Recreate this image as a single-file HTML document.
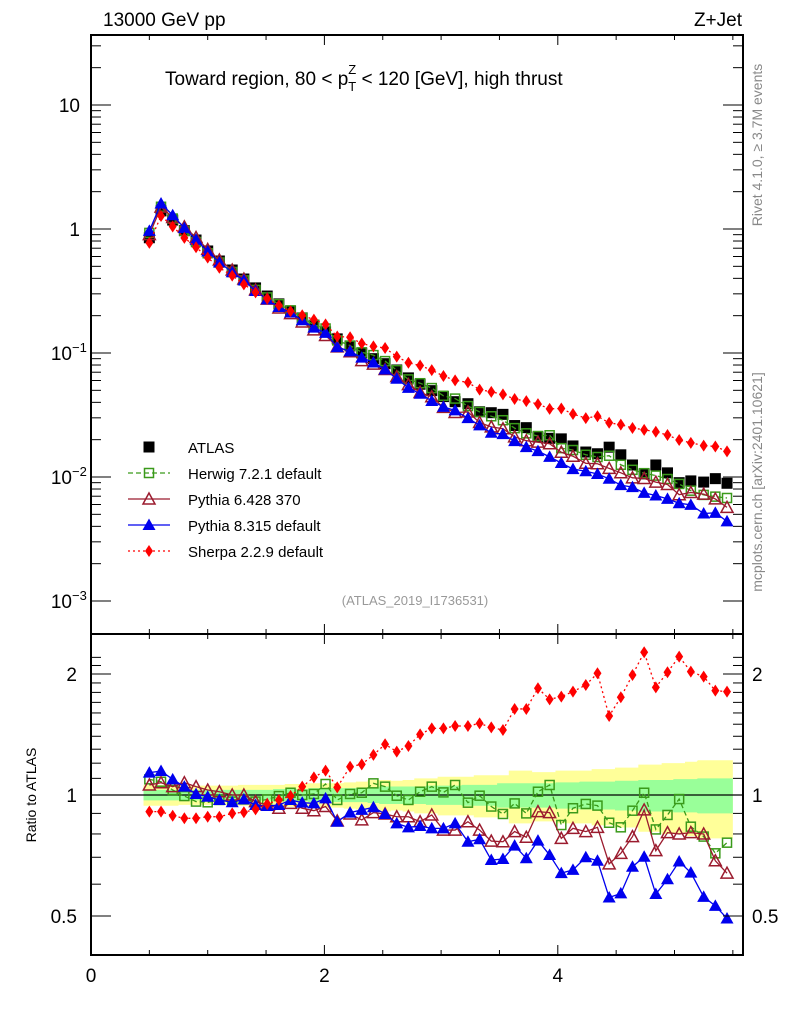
<!DOCTYPE html>
<html><head><meta charset="utf-8"><style>
body{margin:0;background:#fff;}
svg{display:block;font-family:"Liberation Sans",Arial,sans-serif;}
</style></head><body>
<svg id="chart" width="786" height="1024" viewBox="0 0 786 1024"></svg>
<script>
const xBins=[0.50,0.60,0.70,0.80,0.90,1.00,1.10,1.21,1.31,1.41,1.51,1.61,1.71,1.81,1.91,2.01,2.11,2.22,2.32,2.42,2.52,2.62,2.72,2.82,2.92,3.02,3.12,3.23,3.33,3.43,3.53,3.63,3.73,3.83,3.93,4.03,4.13,4.24,4.34,4.44,4.54,4.64,4.74,4.84,4.94,5.04,5.14,5.25,5.35,5.45];
const atlas=[0.85,1.40,1.18,0.97,0.815,0.665,0.552,0.467,0.395,0.335,0.288,0.249,0.218,0.192,0.168,0.148,0.130,0.114,0.100,0.090,0.082,0.073,0.063,0.056,0.0497,0.0445,0.0405,0.039,0.0336,0.033,0.032,0.026,0.025,0.021,0.0205,0.0203,0.0178,0.0159,0.0154,0.0174,0.0151,0.0125,0.0106,0.0125,0.0108,0.0090,0.0093,0.0091,0.0097,0.0089];
const ratioHerwig=[1.094,1.079,1.029,0.994,0.963,0.959,0.972,0.963,0.975,0.963,0.975,0.994,1.013,1.0,1.006,1.065,0.972,1.006,1.013,1.069,1.049,0.996,0.972,1.019,1.049,1.015,1.059,0.957,0.996,0.936,0.897,0.953,0.900,1.019,1.059,0.842,0.927,0.950,0.941,0.853,0.831,0.914,1.013,0.821,0.892,0.977,0.834,0.788,0.716,0.761];
const ratioPy6=[1.059,1.073,1.049,1.073,1.049,1.029,1.019,1.0,1.0,0.963,0.944,0.927,0.953,0.927,0.914,0.936,0.862,0.897,0.867,0.904,0.897,0.883,0.883,0.858,0.892,0.818,0.818,0.858,0.818,0.768,0.765,0.811,0.785,0.909,0.904,0.780,0.826,0.811,0.831,0.674,0.716,0.788,0.918,0.727,0.806,0.800,0.806,0.800,0.686,0.639];
const ratioPy8=[1.137,1.147,1.094,1.049,1.006,0.990,0.972,0.959,0.975,0.944,0.939,0.944,0.972,0.957,0.953,0.981,0.858,0.904,0.918,0.932,0.897,0.850,0.831,0.837,0.826,0.826,0.850,0.765,0.776,0.689,0.693,0.748,0.696,0.770,0.709,0.639,0.651,0.700,0.686,0.556,0.569,0.663,0.702,0.567,0.617,0.683,0.641,0.558,0.530,0.493];
const ratioSherpa=[0.909,0.909,0.888,0.875,0.875,0.883,0.883,0.900,0.906,0.921,0.950,0.972,0.995,1.049,1.106,1.150,1.045,1.176,1.192,1.258,1.337,1.282,1.324,1.415,1.465,1.465,1.485,1.485,1.507,1.473,1.451,1.637,1.637,1.843,1.730,1.757,1.808,1.878,2.008,1.572,1.750,1.989,2.265,1.853,2.020,2.209,2.027,1.970,1.818,1.808];
const errGreen=[0.03,0.03,0.03,0.03,0.03,0.03,0.03,0.03,0.03,0.03,0.03,0.035,0.035,0.035,0.04,0.04,0.04,0.04,0.04,0.045,0.05,0.05,0.05,0.05,0.055,0.055,0.055,0.06,0.06,0.06,0.07,0.07,0.07,0.07,0.07,0.075,0.075,0.08,0.08,0.08,0.085,0.085,0.09,0.09,0.09,0.095,0.095,0.10,0.10,0.10];
const errYellow=[0.06,0.06,0.06,0.055,0.055,0.055,0.055,0.055,0.06,0.06,0.06,0.06,0.065,0.065,0.07,0.07,0.07,0.075,0.08,0.09,0.09,0.085,0.09,0.10,0.10,0.11,0.11,0.11,0.12,0.12,0.12,0.15,0.15,0.14,0.14,0.15,0.15,0.15,0.16,0.16,0.17,0.17,0.19,0.19,0.20,0.20,0.21,0.22,0.22,0.22];
const xTicks=[0,2,4];

const svg=document.getElementById('chart');
const NS='http://www.w3.org/2000/svg';
const L=91,R=743,T1=35,B1=634,T2=634,B2=955;
function X(v){return L+v*116.7;}
function Ym(v){return 229-124*Math.log10(v);}
function Yr(v){return 795-121*Math.log2(v);}
function mk(tag,attrs,parent){const e=document.createElementNS(NS,tag);for(const k in attrs)e.setAttribute(k,attrs[k]);(parent||svg).appendChild(e);return e;}
function txt(s,x,y,attrs,parent){const e=mk('text',Object.assign({x:x,y:y},attrs),parent);e.textContent=s;return e;}

const bands=mk('g',{});


function band(errs,color){let up='',dn='';for(let i=0;i<xBins.length;i++){const x0=X(xBins[i]-0.05),x1=X(xBins[i]+0.05);up+=`L${x0},${Yr(1+errs[i])}L${x1},${Yr(1+errs[i])}`;dn=`L${x1},${Yr(1-errs[i])}L${x0},${Yr(1-errs[i])}`+dn;}return mk('path',{d:'M'+up.slice(1)+dn+'Z',fill:color,stroke:'none'},bands);}
const by=band(errYellow,'#ffff99');


const bg=band(errGreen,'#99ff99');


const one=mk('line',{x1:L,x2:R,y1:Yr(1),y2:Yr(1),stroke:'#000','stroke-width':1.2});



function marker(type,x,y,color,g){const s=5.5;
 if(type==='sq')return mk('rect',{x:x-s,y:y-s,width:2*s,height:2*s,fill:'#000'},g);
 if(type==='osq')return mk('rect',{x:x-4.5,y:y-4.5,width:9,height:9,fill:'none',stroke:color,'stroke-width':1.5},g);
 if(type==='otri')return mk('path',{d:`M${x},${y-6}L${x+6},${y+5}L${x-6},${y+5}Z`,fill:'none',stroke:color,'stroke-width':1.5},g);
 if(type==='tri')return mk('path',{d:`M${x},${y-6.5}L${x+6.5},${y+5}L${x-6.5},${y+5}Z`,fill:color},g);
 if(type==='dia')return mk('path',{d:`M${x},${y-6}L${x+4},${y}L${x},${y+6}L${x-4},${y}Z`,fill:color},g);}

const series=[
 {name:'herwig',r:ratioHerwig,color:'#3a9a1a',m:'osq',dash:'5,3'},
 {name:'pythia6',r:ratioPy6,color:'#9b1b2e',m:'otri',dash:''},
 {name:'pythia8',r:ratioPy8,color:'#0000ee',m:'tri',dash:''},
 {name:'sherpa',r:ratioSherpa,color:'#ff0000',m:'dia',dash:'2,3'}];

const atl=mk('g',{});


xBins.forEach((x,i)=>marker('sq',X(x),Ym(atlas[i]),'#000',atl));
series.forEach(s=>{
 const gm=mk('g',{});
 
 
 const gr=mk('g',{});
 
 
 const pm=xBins.map((x,i)=>X(x)+','+Ym(atlas[i]*s.r[i])).join(' ');
 const pr=xBins.map((x,i)=>X(x)+','+Yr(s.r[i])).join(' ');
 mk('polyline',{points:pm,fill:'none',stroke:s.color,'stroke-width':1.3,'stroke-dasharray':s.dash},gm);
 mk('polyline',{points:pr,fill:'none',stroke:s.color,'stroke-width':1.3,'stroke-dasharray':s.dash},gr);
 xBins.forEach((x,i)=>{marker(s.m,X(x),Ym(atlas[i]*s.r[i]),s.color,gm);marker(s.m,X(x),Yr(s.r[i]),s.color,gr);});
});

const fr=mk('g',{fill:'none',stroke:'#000','stroke-width':2});


mk('rect',{x:L,y:T1,width:R-L,height:B1-T1},fr);mk('rect',{x:L,y:T2,width:R-L,height:B2-T2},fr);

const tk=mk('g',{stroke:'#000','stroke-width':1});


function hline(y,len){mk('line',{x1:L,x2:L+len,y1:y,y2:y},tk);mk('line',{x1:R,x2:R-len,y1:y,y2:y},tk);}
for(let d=-3;d<=1;d++){for(let k=1;k<10;k++){const v=k*Math.pow(10,d);const y=Ym(v);if(y<T1||y>B1)continue;hline(y,k===1?20:10);}}
[0.5,0.6,0.7,0.8,0.9,1,1.1,1.2,1.3,1.4,1.5,1.6,1.7,1.8,1.9,2,2.1,2.2].forEach(v=>hline(Yr(v),(v===0.5||v===1||v===2)?20:10));
for(let v=0;v<=5.5;v+=0.5){const x=X(v);const len=(v%2===0)?10:5;
 [[B1,-1],[T1,1],[B2,-1],[T2,1]].forEach(([y,s])=>mk('line',{x1:x,x2:x,y1:y,y2:y+s*len},tk));}

const lab=mk('g',{'font-size':19,fill:'#000'});


txt('10',80,112,{'text-anchor':'end'},lab);txt('1',80,236,{'text-anchor':'end'},lab);
[[-1,360],[-2,484],[-3,608]].forEach(([e,y])=>{txt('10',72,y,{'text-anchor':'end'},lab);txt(String(e).replace('-','\u2212'),72,y-8,{'font-size':13},lab);});
[['2',2],['1',1],['0.5',0.5]].forEach(([s,v])=>{txt(s,77,Yr(v)+7,{'text-anchor':'end'},lab);txt(s,752,Yr(v)+7,{},lab);});
xTicks.forEach(v=>txt(String(v),X(v),982,{'text-anchor':'middle'},lab));

const t1=txt('13000 GeV pp',103,26,{'font-size':19});


const t2=txt('Z+Jet',742,26,{'font-size':19,'text-anchor':'end'});


const t3=mk('text',{x:165,y:85,'font-size':19});


t3.innerHTML='Toward region, 80 &lt; p<tspan font-size="13" dy="6">T</tspan><tspan font-size="13" dx="-8" dy="-17">Z</tspan><tspan dy="11"> &lt; 120 [GeV], high thrust</tspan>';
const t4=txt('(ATLAS_2019_I1736531)',415,605,{'font-size':13,fill:'#999','text-anchor':'middle'});


const t5=txt('Rivet 4.1.0, \u2265 3.7M events',0,0,{'font-size':14,fill:'#888','text-anchor':'middle',transform:'translate(762,145) rotate(-90)'});


const t6=txt('mcplots.cern.ch [arXiv:2401.10621]',0,0,{'font-size':14,fill:'#888','text-anchor':'middle',transform:'translate(762,482) rotate(-90)'});


const t7=txt('Ratio to ATLAS',0,0,{'font-size':14,'text-anchor':'middle',transform:'translate(36,795) rotate(-90)'});



const lg=mk('g',{});


const entries=[['ATLAS','sq','#000',null],['Herwig 7.2.1 default','osq','#3a9a1a','5,3'],['Pythia 6.428 370','otri','#9b1b2e',''],['Pythia 8.315 default','tri','#0000ee',''],['Sherpa 2.2.9 default','dia','#ff0000','2,3']];
entries.forEach((e,i)=>{const y=447+26*i;const g=mk('g',{},lg);
 
 
 if(e[3]!==null)mk('line',{x1:128,x2:170,y1:y,y2:y,stroke:e[2],'stroke-width':1.3,'stroke-dasharray':e[3]},g);
 marker(e[1],149,y,e[2],g);txt(e[0],188,y+6,{'font-size':15},g);});
</script>
</body></html>
